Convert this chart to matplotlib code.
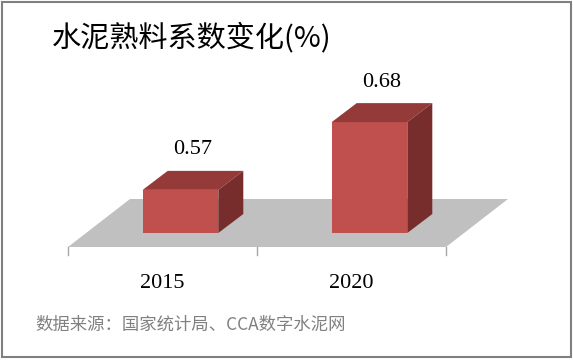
import matplotlib.pyplot as plt
from matplotlib.patches import Polygon, Rectangle

plt.rcParams['font.family'] = ['Noto Sans CJK SC', 'DejaVu Sans']

# 数据
years = ['2015', '2020']
values = [0.57, 0.68]
title = '水泥熟料系数变化(%)'
source = '数据来源：国家统计局、CCA数字水泥网'

W, H = 573, 360
fig = plt.figure(figsize=(W / 100, H / 100), dpi=100)
fig.patch.set_facecolor('white')

# 坐标轴 = 地板前沿平面
base = 0.5
ax = fig.add_axes([68 / W, (H - 247) / H, 378 / W, 154 / H])
ax.set_xlim(-0.5, len(years) - 0.5)
ax.set_ylim(base, 0.75)
ax.axis('off')


def px(dx, dy):
    # 像素偏移 -> 数据偏移
    x0, y0 = ax.transData.transform((0, base))
    x1, y1 = ax.transData.inverted().transform((x0 + dx, y0 + dy))
    return x1, y1 - base


# 地板
fdx, fdy = px(62, 48)
x_lo, x_hi = -0.5, len(years) - 0.5
ax.add_patch(Polygon([(x_lo, base), (x_hi, base), (x_hi + fdx, base + fdy), (x_lo + fdx, base + fdy)],
                     closed=True, fc='#C0C0C0', ec='none', clip_on=False, zorder=1))

# 刻度
tick_len = px(0, 8)[1]
for t in range(len(years) + 1):
    ax.plot([t - 0.5, t - 0.5], [base, base - tick_len], color='#A6A6A6', lw=1, clip_on=False)

# 3D柱子
shx, shy = px(18, 14)
ddx, ddy = px(25, 19)
bw = 0.4
lab_off = px(0, 21)[1]
year_off = px(0, 36)[1]
for i, (yr, v) in enumerate(zip(years, values)):
    x0 = i - bw / 2 + shx
    x1 = x0 + bw
    yb = base + shy
    yt = v + shy
    ax.add_patch(Rectangle((x0, yb), bw, v - base, fc='#C0504D', ec='none', clip_on=False, zorder=3))
    ax.add_patch(Polygon([(x0, yt), (x1, yt), (x1 + ddx, yt + ddy), (x0 + ddx, yt + ddy)],
                         closed=True, fc='#943A38', ec='none', clip_on=False, zorder=3))
    ax.add_patch(Polygon([(x1, yb), (x1, yt), (x1 + ddx, yt + ddy), (x1 + ddx, yb + ddy)],
                         closed=True, fc='#772D2B', ec='none', clip_on=False, zorder=3))
    ax.text(i + shx + ddx / 2, yt + ddy + lab_off, f'{v:.2f}', ha='center', va='center',
            family='Liberation Serif', fontsize=16, color='black')
    ax.text(i, base - year_off, yr, ha='center', va='center',
            family='Liberation Serif', fontsize=16, color='black')

# 标题和来源
fig.text(52 / W, 1 - 38 / H, title, fontsize=21, fontweight='medium', ha='left', va='center', color='black')
fig.text(35 / W, 1 - 325 / H, source, fontsize=12.5, ha='left', va='center', color='#808080')

# 边框
fig.add_artist(Rectangle((2 / W, 3 / H), 569 / W, 355 / H, transform=fig.transFigure,
                         fill=False, ec='#808080', lw=1.5))

fig.savefig('out.png', dpi=100)
plt.close()
